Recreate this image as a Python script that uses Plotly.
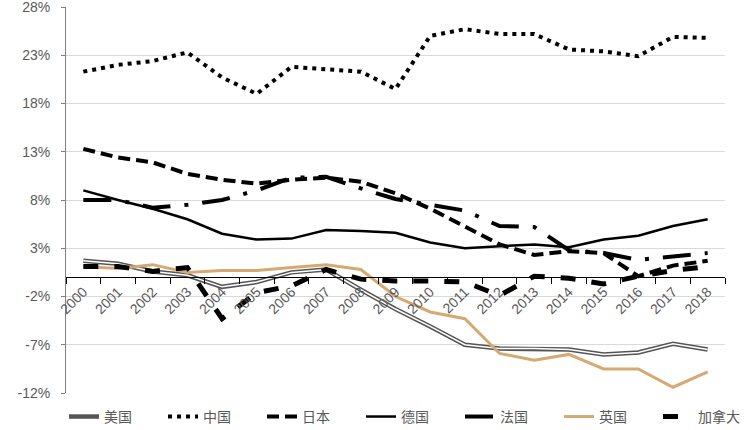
import plotly.graph_objects as go

years = [str(y) for y in range(2000, 2019)]
us = [1.7, 1.4, 0.6, 0.2, -1.0, -0.5, 0.5, 0.8, -1.3, -3.3, -5.1, -7.0, -7.4, -7.4, -7.5, -8.0, -7.8, -6.9, -7.5]
china = [21.3, 22.0, 22.4, 23.3, 20.7, 19.0, 21.8, 21.6, 21.3, 19.5, 25.0, 25.7, 25.2, 25.2, 23.6, 23.4, 22.9, 24.9, 24.8]
japan = [13.3, 12.4, 11.9, 10.7, 10.1, 9.7, 10.1, 10.3, 9.9, 8.7, 7.1, 5.3, 3.4, 2.3, 2.7, 2.5, 0.1, 1.2, 1.7]
germany = [9.0, 8.0, 7.1, 6.0, 4.5, 3.9, 4.0, 4.9, 4.8, 4.6, 3.6, 3.0, 3.2, 3.4, 3.1, 3.9, 4.3, 5.3, 6.0]
france = [8.0, 8.0, 7.2, 7.5, 8.0, 9.0, 10.3, 10.4, 9.2, 8.1, 7.5, 6.9, 5.3, 5.2, 2.8, 2.5, 1.8, 2.2, 2.5]
uk = [1.1, 0.9, 1.3, 0.5, 0.7, 0.7, 1.0, 1.3, 0.8, -2.0, -3.6, -4.3, -7.9, -8.6, -8.0, -9.5, -9.5, -11.4, -9.8]
canada = [1.1, 1.1, 0.6, 1.0, -4.3, -1.6, -0.9, 0.8, -0.2, -0.4, -0.4, -0.5, -1.9, 0.1, -0.1, -0.7, 0.1, 0.7, 1.1]

names = ["美国", "中国", "日本", "德国", "法国", "英国", "加拿大"]
y_ticks = [-12, -7, -2, 3, 8, 13, 18, 23, 28]
y_ticklabels = [f"{v}%" for v in y_ticks]

fig = go.Figure()

# US: double line (dark outer + white core)
fig.add_trace(go.Scatter(x=years, y=us, mode="lines", name=names[0],
                         line=dict(color="#555555", width=4.5)))
fig.add_trace(go.Scatter(x=years, y=us, mode="lines", showlegend=False, hoverinfo="skip",
                         line=dict(color="#ffffff", width=1.5)))
fig.add_trace(go.Scatter(x=years, y=china, mode="lines", name=names[1],
                         line=dict(color="#000000", width=4, dash="4px,5px")))
fig.add_trace(go.Scatter(x=years, y=japan, mode="lines", name=names[2],
                         line=dict(color="#000000", width=4, dash="12px,6px")))
fig.add_trace(go.Scatter(x=years, y=germany, mode="lines", name=names[3],
                         line=dict(color="#000000", width=2.5)))
fig.add_trace(go.Scatter(x=years, y=france, mode="lines", name=names[4],
                         line=dict(color="#000000", width=4, dash="28px,14px,4px,14px")))
fig.add_trace(go.Scatter(x=years, y=uk, mode="lines", name=names[5],
                         line=dict(color="#D4AA72", width=3)))
fig.add_trace(go.Scatter(x=years, y=canada, mode="lines", name=names[6],
                         line=dict(color="#000000", width=5, dash="15px,16px")))

font_family = "Liberation Sans, Noto Sans CJK SC, sans-serif"

fig.update_layout(
    width=750, height=430,
    margin=dict(l=66, r=25, t=7, b=37, autoexpand=False),
    paper_bgcolor="white", plot_bgcolor="white",
    font=dict(family=font_family, size=13, color="#595959"),
    showlegend=True,
    legend=dict(orientation="h", x=-0.003, xanchor="left", y=-0.062, yanchor="middle",
                font=dict(size=14, color="#595959", family=font_family),
                entrywidth=54, entrywidthmode="pixels", traceorder="normal",
                bgcolor="rgba(0,0,0,0)"),
    xaxis=dict(type="category", range=[-0.5, 18.5], anchor="free", position=0.3,
               showgrid=False, showline=True, linecolor="#000000", linewidth=1,
               ticks="outside", ticklen=6, tickcolor="#000000", tickson="boundaries",
               tickangle=-45, tickfont=dict(size=14, color="#595959")),
    yaxis=dict(range=[-12, 28], tickmode="array", tickvals=y_ticks, ticktext=y_ticklabels,
               showgrid=True, gridcolor="#d9d9d9", gridwidth=1,
               showline=True, linecolor="#808080", linewidth=1,
               ticks="outside", ticklen=4, tickcolor="#808080",
               ticklabeloverflow="allow", ticklabelstandoff=8,
               zeroline=False, tickfont=dict(size=14, color="#595959")),
)

fig.write_html("out.html", config={"displayModeBar": False},
               post_script="document.body.style.margin='0';")
